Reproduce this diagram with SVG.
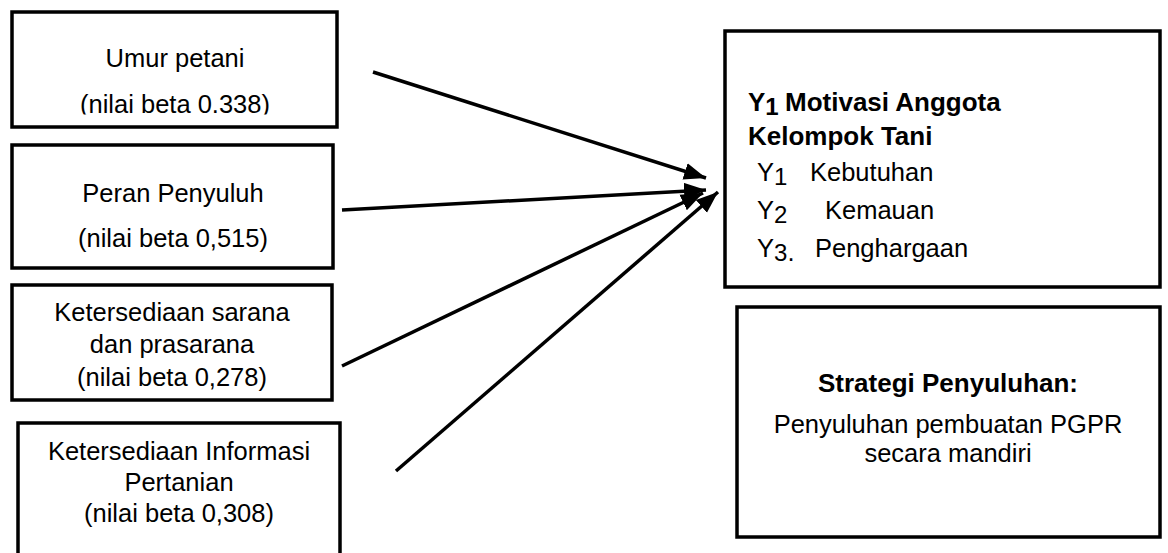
<svg xmlns="http://www.w3.org/2000/svg" width="1168" height="553" viewBox="0 0 1168 553">
<style>
.box{fill:#fff;stroke:#000;stroke-width:3.5}
.t{font-family:"Liberation Sans",Arial,sans-serif;font-size:25.5px;fill:#000}
.c{text-anchor:middle}
.b{font-weight:bold;font-size:26px}
.con{stroke:#000;stroke-width:3.5;fill:none;marker-end:url(#ah)}
</style>
<defs>
<marker id="ah" markerUnits="userSpaceOnUse" markerWidth="24" markerHeight="20" refX="22" refY="10" orient="auto">
<path d="M0,1.5 L22,10 L0,18.5 Z" fill="#000"/>
</marker>
<clipPath id="clip1"><rect x="12" y="12" width="325" height="102.5"/></clipPath>
</defs>
<rect width="1168" height="553" fill="#fff"/>
<g id="n1">
<rect class="box" x="12" y="12" width="325" height="115"/>
<text class="t c" x="175" y="67">Umur petani</text>
<text class="t c" x="175" y="113" clip-path="url(#clip1)">(nilai beta 0.338)</text>
</g>
<g id="n2">
<rect class="box" x="12" y="145" width="321" height="123"/>
<text class="t c" x="173" y="202">Peran Penyuluh</text>
<text class="t c" x="173" y="247">(nilai beta 0,515)</text>
</g>
<g id="n3">
<rect class="box" x="12" y="285" width="320" height="115"/>
<text class="t c" x="172" y="321">Ketersediaan sarana</text>
<text class="t c" x="172" y="353">dan prasarana</text>
<text class="t c" x="172" y="386">(nilai beta 0,278)</text>
</g>
<g id="n4">
<rect class="box" x="18" y="423" width="322" height="140"/>
<text class="t c" x="179" y="460">Ketersediaan Informasi</text>
<text class="t c" x="179" y="491">Pertanian</text>
<text class="t c" x="179" y="522">(nilai beta 0,308)</text>
</g>
<g id="y">
<rect class="box" x="725" y="31" width="435" height="256"/>
<text class="t b" x="748" y="111">Y<tspan font-size="24" dy="4">1</tspan><tspan dy="-4" x="785">Motivasi Anggota</tspan></text>
<text class="t b" x="748" y="145">Kelompok Tani</text>
<text class="t" x="757" y="181">Y<tspan font-size="24" dy="4">1</tspan><tspan dy="-4" x="810">Kebutuhan</tspan></text>
<text class="t" x="757" y="219">Y<tspan font-size="24" dy="4">2</tspan><tspan dy="-4" x="825">Kemauan</tspan></text>
<text class="t" x="757" y="257">Y<tspan font-size="24" dy="4">3</tspan><tspan dy="0">.</tspan><tspan dy="-4" x="815">Penghargaan</tspan></text>
</g>
<g id="s">
<rect class="box" x="737" y="307" width="423" height="230"/>
<text class="t c b" x="948" y="392">Strategi Penyuluhan:</text>
<text class="t c" x="948" y="433">Penyuluhan pembuatan PGPR</text>
<text class="t c" x="948" y="462">secara mandiri</text>
</g>
<g id="connectors">
<line class="con" x1="373" y1="72" x2="706" y2="178"/>
<line class="con" x1="342" y1="210" x2="706" y2="190"/>
<line class="con" x1="342" y1="366" x2="703" y2="193"/>
<line class="con" x1="396" y1="471" x2="718" y2="192"/>
</g>
</svg>
